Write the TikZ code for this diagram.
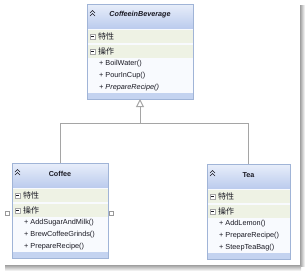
\documentclass[tikz,border=0pt]{standalone}
\usepackage{fontspec}
\setmainfont{Liberation Sans}
\newfontfamily\cjk{Noto Sans CJK SC}
\usetikzlibrary{arrows.meta, calc, positioning}
\definecolor{frameblue}{RGB}{160, 180, 215}
\definecolor{headtop}{RGB}{232, 238, 250}
\definecolor{headbot}{RGB}{188, 204, 238}
\definecolor{bandgreen}{RGB}{238, 242, 228}
\definecolor{bodywhite}{RGB}{248, 250, 254}
\definecolor{barblue}{RGB}{196, 211, 240}
\definecolor{linkgray}{RGB}{165, 165, 165}
\definecolor{inkgray}{RGB}{25, 25, 35}
\tikzset{
  classframe/.style={draw=frameblue, anchor=north west, inner sep=0pt, outer sep=0pt},
  foldbox/.style={draw=gray!70, fill=white, line width=0.4pt},
  handlebox/.style={draw=gray!80, fill=white, minimum size=4pt, inner sep=0pt},
  inherit/.style={draw=linkgray, line width=1pt},
  txt/.style={font=\fontsize{7.3}{8}\selectfont, text=inkgray, inner sep=0pt}
}
% one class box: name, top-left corner, width, title, methods
\newcommand{\umlclass}[5]{%
  \begin{scope}[shift={#2}]
    \fill[bodywhite](0,0)rectangle(#3,95);
    \shade[top color=headtop, bottom color=headbot](0,0)rectangle(#3,24);
    \fill[bandgreen](0,26)rectangle(#3,39);
    \fill[bandgreen](0,41)rectangle(#3,54);
    \fill[barblue](0,89)rectangle(#3,95);
    \draw[inkgray, line width=0.6pt](3,9)--(5.5,6.5)--(8,9)(3,12)--(5.5,9.5)--(8,12);
    \node[txt, font=\fontsize{7.2}{8}\selectfont\bfseries] at (#3/2,11) {#4};
    \draw[foldbox](3,30)rectangle(8,35);\draw[inkgray, line width=0.4pt](4,32.5)--(7,32.5);
    \draw[foldbox](3,45)rectangle(8,50);\draw[inkgray, line width=0.4pt](4,47.5)--(7,47.5);
    \node[txt, anchor=west, font=\cjk\fontsize{8}{8}\selectfont] at (11,32.5) {特性};
    \node[txt, anchor=west, font=\cjk\fontsize{8}{8}\selectfont] at (11,47.5) {操作};
    \foreach \m [count=\i] in {#5}
      \node[txt, anchor=west] at (12,48+12*\i) {\m};
    \node[classframe, minimum width=#3pt, minimum height=95pt] (#1) at (0,0) {};
  \end{scope}}

\begin{document}
\begin{tikzpicture}[x=1pt, y=-1pt]
  \useasboundingbox (0,0) rectangle (305,271);
  %---- window shadow ---------------------------------------------------------
  \shade[left color=gray!75, right color=white](300,5)rectangle(305,266);
  \shade[top color=gray!75, bottom color=white](5,265)rectangle(301,271);
  %---- classes ---------------------------------------------------------------
  \umlclass{base}{(87,4)}{106}{\itshape CoffeeinBeverage}
    {+ BoilWater(), + PourInCup(), \textit{+ PrepareRecipe()}}
  \umlclass{coffee}{(12,163)}{96}{Coffee}
    {+ AddSugarAndMilk(), + BrewCoffeeGrinds(), + PrepareRecipe()}
  \umlclass{tea}{(207,164)}{83}{Tea}
    {+ AddLemon(), + PrepareRecipe(), + SteepTeaBag()}
  \node[handlebox] (hleft) at (7,213) {};
  \node[handlebox] (hright) at (111,213) {};
  %---- generalisation --------------------------------------------------------
  \coordinate (split) at (140,123);
  \draw[inherit](coffee.north)|-(split);
  \draw[inherit](tea.north)|-(split);
  \draw[inherit, -{Triangle[open, length=8pt, width=8pt]}](split)--(base.south);
\end{tikzpicture}
\end{document}
